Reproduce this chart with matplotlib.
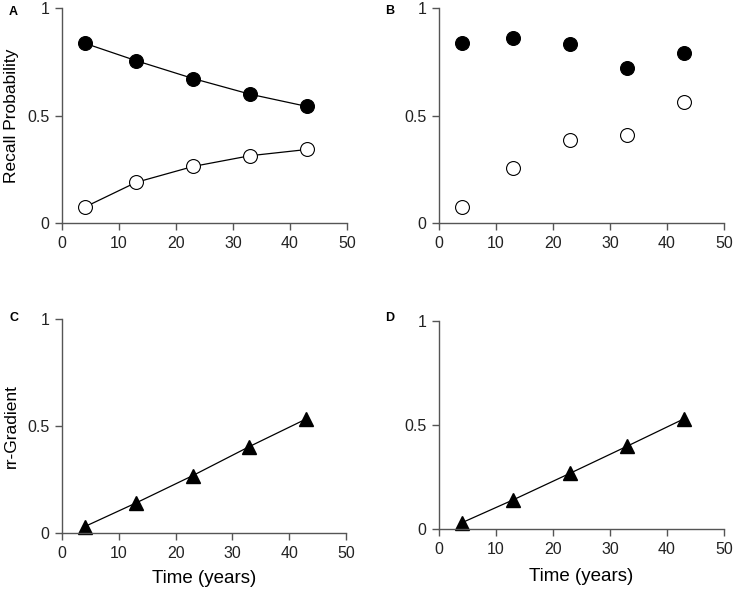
import matplotlib
matplotlib.use("Agg")
import matplotlib.pyplot as plt

plt.rcParams['font.family'] = ['Liberation Sans', 'DejaVu Sans']

# Data
years = [4, 13, 23, 33, 43]
a_filled = [0.836, 0.755, 0.672, 0.599, 0.542]
a_open = [0.074, 0.189, 0.263, 0.313, 0.342]
b_filled = [0.836, 0.862, 0.831, 0.720, 0.793]
b_open = [0.076, 0.254, 0.385, 0.407, 0.565]
c_grad = [0.03, 0.14, 0.268, 0.404, 0.533]
d_grad = [0.03, 0.14, 0.268, 0.398, 0.530]

xticks = [0, 10, 20, 30, 40, 50]
yticks = [0, 0.5, 1]
ytick_labels = ['0', '0.5', '1']

W, H = 734, 596
fig = plt.figure(figsize=(W / 100, H / 100), dpi=100)


def make_ax(left, top, right, bottom):
    ax = fig.add_axes([left / W, 1 - bottom / H, (right - left) / W, (bottom - top) / H])
    ax.set_xlim(0, 50)
    ax.set_ylim(0, 1)
    ax.set_xticks(xticks)
    ax.set_yticks(yticks)
    ax.set_yticklabels(ytick_labels)
    for s in ['top', 'right']:
        ax.spines[s].set_visible(False)
    for s in ['left', 'bottom']:
        ax.spines[s].set_color('#555555')
        ax.spines[s].set_linewidth(1.0)
    ax.tick_params(direction='out', length=5, width=1, color='#555555',
                   labelsize=11.5, labelcolor='#222222', pad=4)
    ax.patch.set_alpha(0)
    return ax


circ = dict(marker='o', markersize=10, markeredgecolor='black', markeredgewidth=0.8, clip_on=False)
tri = dict(marker='^', markersize=10.5, color='black', clip_on=False)

# A
axA = make_ax(62, 8, 347, 223)
axA.plot(years, a_filled, color='black', lw=0.9, markerfacecolor='black', **circ)
axA.plot(years, a_open, color='black', lw=0.9, markerfacecolor='white', **circ)
axA.set_ylabel('Recall Probability', fontsize=12.5, labelpad=6)

# B
axB = make_ax(439, 8, 724, 223)
axB.plot(years, b_filled, ls='none', color='black', markerfacecolor='black', **circ)
axB.plot(years, b_open, ls='none', color='black', markerfacecolor='white', **circ)

# C
axC = make_ax(62, 319, 346, 533)
axC.plot(years, c_grad, lw=0.9, **tri)
axC.set_ylabel('rr-Gradient', fontsize=12.5, labelpad=6)
axC.set_xlabel('Time (years)', fontsize=13.5, labelpad=7)

# D
axD = make_ax(439, 321, 724, 529)
axD.plot(years, d_grad, lw=0.9, **tri)
axD.set_xlabel('Time (years)', fontsize=13.5, labelpad=8)

# panel letters
for lab, x, y in [('A', 9, 12), ('B', 385, 11), ('C', 9, 318), ('D', 385, 318)]:
    fig.text(x / W, 1 - y / H, lab, fontsize=9, fontweight='bold', va='center', ha='left')

fig.savefig('out.png', dpi=100)
